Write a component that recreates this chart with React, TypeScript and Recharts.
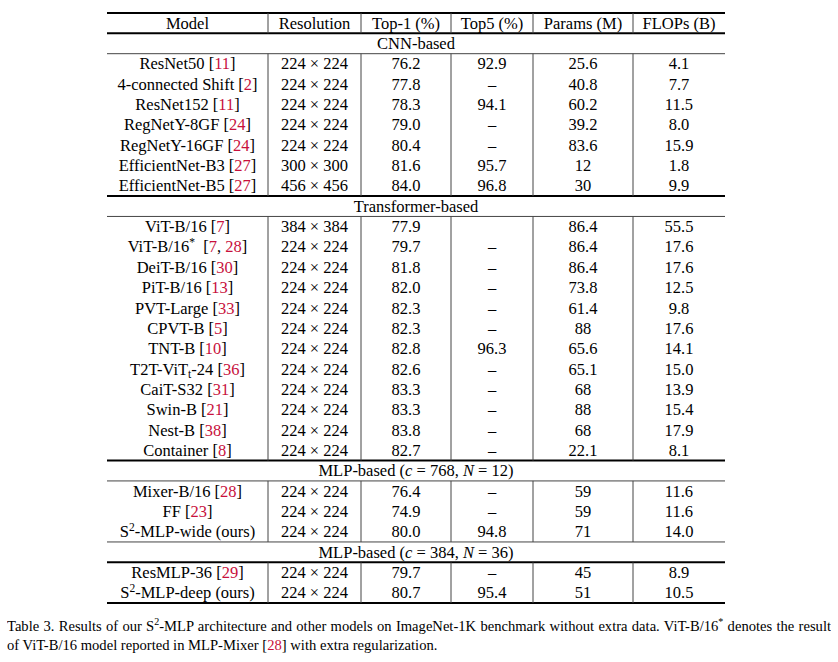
import React from 'react';
import { ScatterChart, Scatter, XAxis, YAxis, ReferenceLine } from 'recharts';

// ---- table content ----
const headers = ['Model', 'Resolution', 'Top-1 (%)', 'Top5 (%)', 'Params (M)', 'FLOPs (B)'];

const groupTitles = [
  'CNN-based',
  'Transformer-based',
  'MLP-based ($c$ = 768, $N$ = 12)',
  'MLP-based ($c$ = 384, $N$ = 36)',
];

// markup: [..] citation, ^x superscript, _x subscript, $x$ italic
const cnnModels = ['ResNet50 [11]', '4-connected Shift [2]', 'ResNet152 [11]', 'RegNetY-8GF [24]', 'RegNetY-16GF [24]', 'EfficientNet-B3 [27]', 'EfficientNet-B5 [27]'];
const cnnRes = ['224 × 224', '224 × 224', '224 × 224', '224 × 224', '224 × 224', '300 × 300', '456 × 456'];
const cnnTop1 = [76.2, 77.8, 78.3, 79.0, 80.4, 81.6, 84.0];
const cnnTop5 = [92.9, null, 94.1, null, null, 95.7, 96.8];
const cnnParams = [25.6, 40.8, 60.2, 39.2, 83.6, 12, 30];
const cnnFlops = [4.1, 7.7, 11.5, 8.0, 15.9, 1.8, 9.9];

const trModels = ['ViT-B/16 [7]', 'ViT-B/16^*  [7, 28]', 'DeiT-B/16 [30]', 'PiT-B/16 [13]', 'PVT-Large [33]', 'CPVT-B [5]', 'TNT-B [10]', 'T2T-ViT_t-24 [36]', 'CaiT-S32 [31]', 'Swin-B [21]', 'Nest-B [38]', 'Container [8]'];
const trRes = ['384 × 384', '224 × 224', '224 × 224', '224 × 224', '224 × 224', '224 × 224', '224 × 224', '224 × 224', '224 × 224', '224 × 224', '224 × 224', '224 × 224'];
const trTop1 = [77.9, 79.7, 81.8, 82.0, 82.3, 82.3, 82.8, 82.6, 83.3, 83.3, 83.8, 82.7];
// undefined = empty cell, null = dash
const trTop5 = [undefined, null, null, null, null, null, 96.3, null, null, null, null, null];
const trParams = [86.4, 86.4, 86.4, 73.8, 61.4, 88, 65.6, 65.1, 68, 88, 68, 22.1];
const trFlops = [55.5, 17.6, 17.6, 12.5, 9.8, 17.6, 14.1, 15.0, 13.9, 15.4, 17.9, 8.1];

const mlpWideModels = ['Mixer-B/16 [28]', 'FF [23]', 'S^2-MLP-wide (ours)'];
const mlpWideRes = ['224 × 224', '224 × 224', '224 × 224'];
const mlpWideTop1 = [76.4, 74.9, 80.0];
const mlpWideTop5 = [null, null, 94.8];
const mlpWideParams = [59, 59, 71];
const mlpWideFlops = [11.6, 11.6, 14.0];

const mlpDeepModels = ['ResMLP-36 [29]', 'S^2-MLP-deep (ours)'];
const mlpDeepRes = ['224 × 224', '224 × 224'];
const mlpDeepTop1 = [79.7, 80.7];
const mlpDeepTop5 = [null, 95.4];
const mlpDeepParams = [45, 51];
const mlpDeepFlops = [8.9, 10.5];

const captionLines = [
  'Table 3. Results of our S^2-MLP architecture and other models on ImageNet-1K benchmark without extra data. ViT-B/16^* denotes the result',
  'of ViT-B/16 model reported in MLP-Mixer [28] with extra regularization.',
];

// ---- layout ----
const COL_W = [161, 93, 90, 82, 100, 92];
const TABLE_W = COL_W.reduce((a, b) => a + b, 0);
const LEFT = 107;
const TOP = 13;
const BOTTOM_RULE = 603;
const W = 838;
const H = 662;
const FONT = '"Liberation Serif", "Times New Roman", Times, serif';
const CITE = '#c8103c';
const FS = 16.5;
const CAP_FS = 14.6;

const sections = [
  { title: groupTitles[0], models: cnnModels, res: cnnRes, top1: cnnTop1, top5: cnnTop5, params: cnnParams, flops: cnnFlops, before: 'thick', after: 'thin' },
  { title: groupTitles[1], models: trModels, res: trRes, top1: trTop1, top5: trTop5, params: trParams, flops: trFlops, before: 'thick', after: 'thin' },
  { title: groupTitles[2], models: mlpWideModels, res: mlpWideRes, top1: mlpWideTop1, top5: mlpWideTop5, params: mlpWideParams, flops: mlpWideFlops, before: 'thick', after: 'thin' },
  { title: groupTitles[3], models: mlpDeepModels, res: mlpDeepRes, top1: mlpDeepTop1, top5: mlpDeepTop5, params: mlpDeepParams, flops: mlpDeepFlops, before: 'thin', after: 'thick' },
];

const colBounds: number[] = [0];
COL_W.forEach((w, i) => colBounds.push(colBounds[i] + w));
const colCenter = COL_W.map((w, i) => colBounds[i] + w / 2);

type Cell = { x: number; y: number; text: string };
const cells: Cell[] = [];
const hLines: { y: number; kind: string }[] = [{ y: 0, kind: 'thick' }];
const vSpans: [number, number][] = [[0, 1]];

let r = 0;
headers.forEach((h, c) => cells.push({ x: colCenter[c], y: r + 0.5, text: h }));
r++;
hLines.push({ y: r, kind: 'thick' });
sections.forEach((s, si) => {
  if (si > 0) hLines.push({ y: r, kind: s.before });
  cells.push({ x: TABLE_W / 2, y: r + 0.5, text: s.title });
  r++;
  hLines.push({ y: r, kind: s.after });
  const start = r;
  s.models.forEach((m, i) => {
    const t5 = s.top5[i];
    const vals = [
      m,
      s.res[i],
      s.top1[i].toFixed(1),
      t5 === undefined ? '' : t5 === null ? '–' : t5.toFixed(1),
      String(s.params[i]),
      s.flops[i].toFixed(1),
    ];
    vals.forEach((v, c) => cells.push({ x: colCenter[c], y: r + 0.5, text: v }));
    r++;
  });
  vSpans.push([start, r]);
});
hLines.push({ y: r, kind: 'thick' });
const N_ROWS = r;

// turn the little markup into tspans
function renderRich(text: string, fontSize: number) {
  const out: React.ReactNode[] = [];
  let shift = 0;
  let k = 0;
  const push = (t: string, extra: any = {}) => out.push(<tspan key={k++} {...extra}>{t}</tspan>);
  const re = /\[[^\]]*\]|\^.|_.|\$[^$]*\$|[^\[\^_$]+/g;
  const parts = text.match(re) || [];
  parts.forEach((p) => {
    let dy = 0;
    if (shift !== 0) {
      dy = -shift;
      shift = 0;
    }
    if (p.startsWith('[')) {
      const inner = p.slice(1, -1).split(/(\d+)/).filter((x) => x !== '');
      push('[', dy ? { dy } : {});
      inner.forEach((x) => push(x, /\d/.test(x) ? { fill: CITE } : {}));
      push(']');
    } else if (p.startsWith('^')) {
      shift = -fontSize * 0.38;
      push(p.slice(1), { dy: dy + shift, fontSize: fontSize * 0.7 });
    } else if (p.startsWith('_')) {
      shift = fontSize * 0.2;
      push(p.slice(1), { dy: dy + shift, fontSize: fontSize * 0.7 });
    } else if (p.startsWith('$')) {
      push(p.slice(1, -1), { fontStyle: 'italic', ...(dy ? { dy } : {}) });
    } else {
      push(p, dy ? { dy } : {});
    }
  });
  return out;
}

const CellText = (props: any) => {
  const { cx, cy, payload } = props;
  if (!payload || !payload.text) return <g />;
  return (
    <text x={cx} y={cy + 5.5} textAnchor="middle" fontFamily={FONT} fontSize={FS} fill="#000" style={{ whiteSpace: 'pre' }}>
      {renderRich(payload.text, FS)}
    </text>
  );
};

export default function App() {
  return (
    <div style={{ position: 'absolute', left: 0, top: 0, width: W, height: H, background: '#fff' }}>
      <ScatterChart
        width={W}
        height={H}
        margin={{ top: TOP, left: LEFT, right: W - LEFT - TABLE_W, bottom: H - BOTTOM_RULE }}
      >
        <XAxis type="number" dataKey="x" domain={[0, TABLE_W]} hide />
        <YAxis type="number" dataKey="y" domain={[0, N_ROWS]} reversed hide width={0} />
        {hLines.map((l, i) => (
          <ReferenceLine
            key={`h${i}`}
            y={l.y}
            stroke={l.kind === 'thick' ? '#000' : '#444'}
            strokeWidth={l.kind === 'thick' ? 2 : 1}
          />
        ))}
        {vSpans.map(([a, b], si) =>
          colBounds.slice(1, -1).map((xb, ci) => (
            <ReferenceLine
              key={`v${si}-${ci}`}
              segment={[{ x: xb, y: a }, { x: xb, y: b }]}
              stroke="#444"
              strokeWidth={1}
            />
          ))
        )}
        <Scatter data={cells} dataKey="y" isAnimationActive={false} shape={<CellText />} />
      </ScatterChart>
      <div
        style={{
          position: 'absolute',
          left: 7,
          top: 617,
          width: 824,
          fontFamily: FONT,
          fontSize: CAP_FS,
          lineHeight: '19px',
          color: '#000',
        }}
      >
        {captionLines.map((line, i) => (
          <div
            key={i}
            style={{
              whiteSpace: i === 0 ? 'normal' : 'nowrap',
              textAlign: i === 0 ? 'justify' : 'left',
              textAlignLast: i === 0 ? 'justify' : 'left',
              height: 19,
              overflow: 'hidden',
            }}
          >
            {line.split(/(\^.|\[\d+\])/).map((p, j) =>
              p.startsWith('^') ? (
                <sup key={j} style={{ fontSize: 10, verticalAlign: 6, lineHeight: 0 }}>{p.slice(1)}</sup>
              ) : p.startsWith('[') ? (
                <span key={j}>
                  [<span style={{ color: CITE }}>{p.slice(1, -1)}</span>]
                </span>
              ) : (
                <span key={j}>{p}</span>
              )
            )}
          </div>
        ))}
      </div>
    </div>
  );
}
